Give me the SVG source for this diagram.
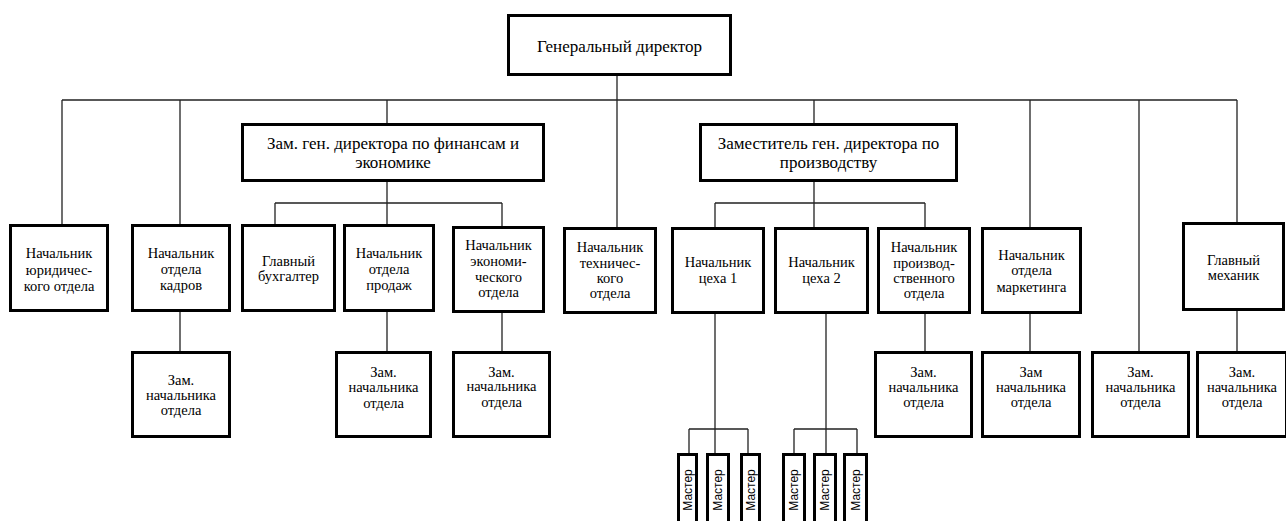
<svg xmlns="http://www.w3.org/2000/svg" width="1286" height="521" viewBox="0 0 1286 521">
<style>
.b{fill:#fff;stroke:#000;stroke-width:3}
.c{fill:none;stroke:#222;stroke-width:1.3}
.t{font-family:"Liberation Serif","Times New Roman",serif;font-size:14.5px;fill:#000;text-anchor:middle}
.T{font-family:"Liberation Serif","Times New Roman",serif;font-size:17px;fill:#000;text-anchor:middle}
.m{font-family:"Liberation Sans",Arial,sans-serif;font-size:12px;fill:#000;text-anchor:middle}
</style>
<rect width="1286" height="521" fill="#fff"/>
<g id="connectors">
<path class="c" d="M617 76V227M62 100H1237M62 100V224M180 100V224M387 100V123M814 100V123M1030 100V227M1139 100V351M1237 100V222"/>
<path class="c" d="M387 182V224M275 203H502M275 203V224M502 203V226"/>
<path class="c" d="M814 182V227M715 203H925M715 203V227M925 203V227"/>
<path class="c" d="M180 312V351M387 312V351M502 313V351M925 314V351M1030 314V351M1237 311V351"/>
<path class="c" d="M715 314V429M689 429H748M689 429V453M715 429V453M748 429V453"/>
<path class="c" d="M826 314V429M794 429H857M794 429V453M826 429V453M857 429V453"/>
</g>
<g id="gen"><rect class="b" x="508.5" y="15.5" width="222" height="59"/><text class="T" x="619.5" y="52">Генеральный директор</text></g>
<g id="fin"><rect class="b" x="242.5" y="124.5" width="301" height="56"/><text class="T" x="393" y="149">Зам. ген. директора по финансам и</text><text class="T" x="393" y="168">экономике</text></g>
<g id="prod"><rect class="b" x="700.5" y="124.5" width="256" height="56"/><text class="T" x="828.5" y="149">Заместитель ген. директора по</text><text class="T" x="828.5" y="168">производству</text></g>
<g id="yur"><rect class="b" x="10.5" y="225.5" width="97" height="85"/><text class="t" x="59" y="258">Начальник</text><text class="t" x="59" y="275">юридичес-</text><text class="t" x="59" y="291">кого отдела</text></g>
<g id="kadr"><rect class="b" x="132.5" y="225.5" width="97" height="85"/><text class="t" x="181" y="258">Начальник</text><text class="t" x="181" y="274">отдела</text><text class="t" x="181" y="290">кадров</text></g>
<g id="buh"><rect class="b" x="242.5" y="225.5" width="92" height="85"/><text class="t" x="288.5" y="266">Главный</text><text class="t" x="288.5" y="281">бухгалтер</text></g>
<g id="prodazh"><rect class="b" x="344.5" y="225.5" width="89" height="85"/><text class="t" x="389" y="258">Начальник</text><text class="t" x="389" y="274">отдела</text><text class="t" x="389" y="290">продаж</text></g>
<g id="econ"><rect class="b" x="453.5" y="227.5" width="90" height="84"/><text class="t" x="498.5" y="250">Начальник</text><text class="t" x="498.5" y="266">экономи-</text><text class="t" x="498.5" y="282">ческого</text><text class="t" x="498.5" y="297">отдела</text></g>
<g id="tech"><rect class="b" x="564.5" y="228.5" width="91" height="84"/><text class="t" x="610" y="252">Начальник</text><text class="t" x="610" y="268">техничес-</text><text class="t" x="610" y="283">кого</text><text class="t" x="610" y="298">отдела</text></g>
<g id="tseh1"><rect class="b" x="672.5" y="228.5" width="91" height="84"/><text class="t" x="718" y="267">Начальник</text><text class="t" x="718" y="283">цеха 1</text></g>
<g id="tseh2"><rect class="b" x="775.5" y="228.5" width="92" height="84"/><text class="t" x="821.5" y="267">Начальник</text><text class="t" x="821.5" y="283">цеха 2</text></g>
<g id="proizv"><rect class="b" x="878.5" y="228.5" width="91" height="84"/><text class="t" x="924" y="252">Начальник</text><text class="t" x="924" y="268">производ-</text><text class="t" x="924" y="283">ственного</text><text class="t" x="924" y="298">отдела</text></g>
<g id="market"><rect class="b" x="982.5" y="228.5" width="98" height="84"/><text class="t" x="1031.5" y="260">Начальник</text><text class="t" x="1031.5" y="275">отдела</text><text class="t" x="1031.5" y="292">маркетинга</text></g>
<g id="mech"><rect class="b" x="1183.5" y="223.5" width="100" height="86"/><text class="t" x="1233.5" y="265">Главный</text><text class="t" x="1233.5" y="280">механик</text></g>
<g id="z_kadr"><rect class="b" x="132.5" y="352.5" width="97" height="84"/><text class="t" x="181" y="385">Зам.</text><text class="t" x="181" y="400">начальника</text><text class="t" x="181" y="415">отдела</text></g>
<g id="z_prodazh"><rect class="b" x="336.5" y="352.5" width="94" height="84"/><text class="t" x="383.5" y="377">Зам.</text><text class="t" x="383.5" y="392">начальника</text><text class="t" x="383.5" y="408">отдела</text></g>
<g id="z_econ"><rect class="b" x="453.5" y="352.5" width="96" height="84"/><text class="t" x="501.5" y="377">Зам.</text><text class="t" x="501.5" y="391">начальника</text><text class="t" x="501.5" y="407">отдела</text></g>
<g id="z_proizv"><rect class="b" x="875.5" y="352.5" width="96" height="84"/><text class="t" x="923.5" y="377">Зам.</text><text class="t" x="923.5" y="392">начальника</text><text class="t" x="923.5" y="407">отдела</text></g>
<g id="z_market"><rect class="b" x="982.5" y="352.5" width="97" height="84"/><text class="t" x="1031" y="377">Зам</text><text class="t" x="1031" y="392">начальника</text><text class="t" x="1031" y="407">отдела</text></g>
<g id="z_sep"><rect class="b" x="1092.5" y="352.5" width="96" height="84"/><text class="t" x="1140.5" y="377">Зам.</text><text class="t" x="1140.5" y="392">начальника</text><text class="t" x="1140.5" y="407">отдела</text></g>
<g id="z_mech"><rect class="b" x="1197.5" y="352.5" width="89" height="84"/><text class="t" x="1242" y="377">Зам.</text><text class="t" x="1242" y="392">начальника</text><text class="t" x="1242" y="407">отдела</text></g>
<g id="m1"><rect class="b" x="678.5" y="454.5" width="18" height="80"/><text class="m" transform="translate(691.5 490) rotate(-90)">Мастер</text></g>
<g id="m2"><rect class="b" x="707.5" y="454.5" width="21" height="80"/><text class="m" transform="translate(722 490) rotate(-90)">Мастер</text></g>
<g id="m3"><rect class="b" x="741.5" y="454.5" width="18" height="80"/><text class="m" transform="translate(754.5 490) rotate(-90)">Мастер</text></g>
<g id="m4"><rect class="b" x="783.5" y="454.5" width="21" height="80"/><text class="m" transform="translate(798 490) rotate(-90)">Мастер</text></g>
<g id="m5"><rect class="b" x="814.5" y="454.5" width="21" height="80"/><text class="m" transform="translate(829 490) rotate(-90)">Мастер</text></g>
<g id="m6"><rect class="b" x="844.5" y="454.5" width="22" height="80"/><text class="m" transform="translate(859.5 490) rotate(-90)">Мастер</text></g>
</svg>
